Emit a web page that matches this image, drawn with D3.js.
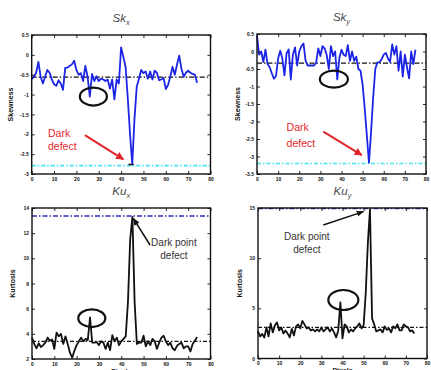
<!DOCTYPE html>
<html>
<head>
<meta charset="utf-8">
<script src="https://cdnjs.cloudflare.com/ajax/libs/d3/7.8.5/d3.min.js"></script>
<style>
body { margin: 0; background: #fff; }
svg { display: block; font-family: "Liberation Sans", Arial, sans-serif; }
</style>
</head>
<body>
<svg width="431" height="370"></svg>
<script>
// values, one per pixel position 0..74
var skx = [-0.61, -0.55, -0.45, -0.18, -0.55, -0.72, -0.55, -0.38, -0.45, -0.62,
           -0.74, -0.78, -0.64, -0.72, -0.88, -0.33, -0.32, -0.28, -0.24, -0.15,
           -0.38, -0.5, -0.46, -0.66, -0.28, -0.55, -1.05, -0.48, -0.66, -0.54,
           -0.66, -0.6, -0.62, -0.66, -0.62, -0.85, -0.62, -1.12, -0.62, -0.72,
           0.19, -0.05, -0.3, -1.1, -2.0, -2.76, -1.6, -0.8, -0.6, -0.38,
           -0.46, -0.42, -0.6, -0.42, -0.62, -0.4, -0.45, -0.64, -0.62, -0.58,
           -0.86, -0.76, -0.55, -0.3, -0.5, -0.25, -0.02, -0.35, -0.55, -0.45,
           -0.4, -0.45, -0.48, -0.5, -0.7];
var sky = [0.45, -0.09, 0.0, -0.3, 0.05, -0.36, -0.45, -0.62, -0.78, -0.7,
           -0.2, 0.02, -0.2, -0.68, -0.05, 0.06, -0.8, -0.09, 0.12, -0.4,
           0.0, 0.15, 0.23, -0.27, -0.4, -0.4, -0.4, -0.4, -0.32, 0.09,
           -0.13, 0.15, 0.09, -0.1, -0.5, 0.15, -0.13, 0.0, -0.8, -0.18,
           0.05, -0.09, -0.13, 0.18, -0.27, 0.0, -0.27, -0.15, -0.5, -0.55,
           -0.95, -1.63, -2.4, -3.18, -2.3, -1.3, -0.5, -0.31, -0.31, -0.22,
           -0.09, -0.04, -0.2, -0.3, 0.2, -0.09, 0.15, -0.55, 0.0, -0.72,
           -0.09, -0.45, -0.77, 0.0, -0.36, 0.05];
var kux = [3.7, 3.2, 2.85, 3.25, 2.95, 3.1, 3.3, 3.7, 3.45, 3.55,
           2.8, 4.1, 3.8, 4.0, 3.2, 3.8, 3.2, 2.5, 2.1, 2.65,
           3.1, 3.4, 3.7, 3.4, 3.6, 3.5, 5.3, 3.3, 3.3, 3.35,
           3.1, 3.4, 3.3, 2.8, 3.3, 2.7, 3.9, 3.4, 3.7, 3.1,
           3.4, 3.6, 3.8, 6.5, 11.5, 13.3, 6.5, 3.2, 3.3, 3.3,
           3.85, 3.0, 3.4, 3.1, 3.6, 3.4, 2.8, 3.3, 3.7, 3.85,
           3.4, 3.1, 3.3, 2.85, 2.7, 3.05, 3.2, 3.3, 2.85, 3.0,
           3.0, 2.6, 3.2, 3.45, 3.75];
var kuy = [2.7, 2.2, 2.45, 2.1, 3.1, 2.2, 3.5, 2.6, 3.3, 3.6,
           2.8, 3.1, 2.5, 2.8, 2.5, 2.1, 2.95, 2.3, 3.2, 3.4,
           3.0, 3.75, 3.4, 3.0, 3.1, 2.8, 2.9, 2.7, 2.9, 2.7,
           3.1, 2.7, 2.9, 3.1, 2.7, 3.0, 2.6, 2.1, 2.8, 5.6,
           2.0, 3.4, 3.2, 2.6, 2.9, 2.7, 3.0, 3.2, 3.5, 3.0,
           3.3, 6.5, 11.5, 14.85, 4.0, 3.4, 2.7, 2.8, 2.9, 2.6,
           3.2, 2.85, 3.0, 2.6, 3.2, 3.0, 3.4, 2.8, 2.8, 3.4,
           3.2, 3.1, 2.7, 2.8, 2.5];

// reference levels: [mean, defect level]
var skxLevels = [-0.56, -2.79];
var skyLevels = [-0.33, -3.2];
var kuxLevels = [3.4, 13.36];
var kuyLevels = [3.1, 14.95];

var xTicks = [0, 10, 20, 30, 40, 50, 60, 70, 80];
var skxTicks = [0.5, 0, -0.5, -1, -1.5, -2, -2.5, -3];
var skyTicks = [0.5, 0, -0.5, -1, -1.5, -2, -2.5, -3, -3.5];
var kuxTicks = [2, 4, 6, 8, 10, 12, 14];
var kuyTicks = [0, 5, 10, 15];

var svg = d3.select("svg");

var defs = svg.append("defs");
defs.append("marker")
    .attr("id", "redhead")
    .attr("viewBox", "0 0 10 10")
    .attr("refX", 9).attr("refY", 5)
    .attr("markerWidth", 4).attr("markerHeight", 4)
    .attr("orient", "auto")
  .append("path")
    .attr("d", "M0,0L10,5L0,10z")
    .attr("fill", "#e3262b");
defs.append("marker")
    .attr("id", "blackhead")
    .attr("viewBox", "0 0 10 10")
    .attr("refX", 9).attr("refY", 5)
    .attr("markerWidth", 5).attr("markerHeight", 5)
    .attr("orient", "auto")
  .append("path")
    .attr("d", "M0,1L10,5L0,9z")
    .attr("fill", "#111");

var panels = [
  {box: [31.7, 210.5, 35, 174], values: skx, yDomain: [-3, 0.5], yTicks: skxTicks,
   name: "Sk", sub: "x", ylabel: "Skewness", ylabelAt: -18.5, color: "#1c25e6",
   mean: skxLevels[0], mark: skxLevels[1], markColor: "#45e3ee", meanDash: "5,2,1.5,2", markDash: "4,2,1.5,2",
   ellipse: [27.6, -1.05, 13.5, 9], label: ["Dark", "defect"], labelAt: [7.3, -2.07, -2.4], labelColor: "#e3262b", labelAnchor: "start",
   arrow: [23.8, -2.02, 41, -2.63], arrowColor: "#e3262b", head: "redhead", foot: [43.3, 45.6, -2.76]},
  {box: [257, 426, 34, 174], values: sky, yDomain: [-3.5, 0.5], yTicks: skyTicks,
   name: "Sk", sub: "y", ylabel: "Skewness", ylabelAt: -17.5, color: "#1c25e6",
   mean: skyLevels[0], mark: skyLevels[1], markColor: "#45e3ee", meanDash: "5,2,1.5,2", markDash: "4,2,1.5,2",
   ellipse: [36.4, -0.79, 14, 8.5], label: ["Dark", "defect"], labelAt: [14, -2.26, -2.72], labelColor: "#e3262b", labelAnchor: "start",
   arrow: [31.4, -2.29, 49.6, -2.96], arrowColor: "#e3262b", head: "redhead"},
  {box: [32, 210.5, 208, 359], values: kux, yDomain: [2, 14], yTicks: kuxTicks,
   name: "Ku", sub: "x", ylabel: "Kurtosis", ylabelAt: -17.5, color: "#111",
   mean: kuxLevels[0], mark: kuxLevels[1], markColor: "#2b2fb5", meanDash: "4,2,1.5,2", markDash: "5,2,1.5,2",
   ellipse: [26.8, 5.24, 13.5, 8.8], label: ["Dark point", "defect"], labelAt: [63.6, 10.95, 9.95], labelColor: "#333", labelAnchor: "middle",
   arrow: [52.9, 11.06, 45.4, 13.18], arrowColor: "#111", head: "blackhead", xlabel: "Pixels"},
  {box: [258, 427, 208, 358.5], values: kuy, yDomain: [0, 15], yTicks: kuyTicks,
   name: "Ku", sub: "y", ylabel: "Kurtosis", ylabelAt: -16.5, color: "#111",
   mean: kuyLevels[0], mark: kuyLevels[1], markColor: "#2b2fb5", meanDash: "4,2,1.5,2", markDash: "5,2,1.5,2",
   ellipse: [40.4, 5.83, 15, 10], label: ["Dark point", "defect"], labelAt: [23.1, 11.8, 10.5], labelColor: "#333", labelAnchor: "middle",
   arrow: [30.9, 13.3, 49.9, 14.64], arrowColor: "#111", head: "blackhead", xlabel: "Pixels"}
];

panels.forEach(function(p) {
    var width = p.box[1] - p.box[0],
        height = p.box[3] - p.box[2];

    var x = d3.scaleLinear().domain([0, 80]).range([0, width]);
    var y = d3.scaleLinear().domain(p.yDomain).range([height, 0]);

    var g = svg.append("g")
        .attr("transform", "translate(" + p.box[0] + "," + p.box[2] + ")");

    // title
    var title = g.append("text")
        .attr("x", width / 2)
        .attr("y", -13)
        .attr("text-anchor", "middle")
        .attr("font-size", 11.5)
        .attr("font-style", "italic")
        .attr("fill", "#4a4a4a");
    title.append("tspan").text(p.name);
    title.append("tspan").attr("font-size", 7.5).attr("dy", 3).text(p.sub);

    // reference levels
    [[p.mean, "#111", p.meanDash, 1.2], [p.mark, p.markColor, p.markDash, 1.6]].forEach(function(l) {
        g.append("line")
            .attr("x1", x(0)).attr("x2", x(80))
            .attr("y1", y(l[0])).attr("y2", y(l[0]))
            .attr("stroke", l[1])
            .attr("stroke-width", l[3])
            .attr("stroke-dasharray", l[2]);
    });

    // series
    g.append("path")
        .datum(p.values)
        .attr("fill", "none")
        .attr("stroke", p.color)
        .attr("stroke-width", 1.8)
        .attr("stroke-linejoin", "round")
        .attr("d", d3.line()
            .x(function(d, i) { return x(i); })
            .y(function(d) { return y(d); }));

    if (p.foot) {
        g.append("line")
            .attr("x1", x(p.foot[0])).attr("x2", x(p.foot[1]))
            .attr("y1", y(p.foot[2])).attr("y2", y(p.foot[2]))
            .attr("stroke", "#111").attr("stroke-width", 1.5);
    }

    // axes, MATLAB style ticks inside the box
    var fmt = function(d) { return String(d); };
    g.append("g")
        .attr("transform", "translate(0," + height + ")")
        .call(d3.axisBottom(x).tickValues(xTicks).tickFormat(fmt).tickSize(-3).tickSizeOuter(0).tickPadding(3));
    g.append("g")
        .call(d3.axisLeft(y).tickValues(p.yTicks).tickFormat(fmt).tickSize(-3).tickSizeOuter(0).tickPadding(3));
    g.append("g")
        .call(d3.axisTop(x).tickValues(xTicks).tickFormat("").tickSize(-3).tickSizeOuter(0));
    g.append("g")
        .attr("transform", "translate(" + width + ",0)")
        .call(d3.axisRight(y).tickValues(p.yTicks).tickFormat("").tickSize(-3).tickSizeOuter(0));

    g.selectAll(".tick text")
        .attr("font-size", 5)
        .attr("font-weight", "bold")
        .attr("font-family", "\"Liberation Sans\", Arial, sans-serif")
        .attr("fill", "#111");
    g.selectAll(".domain").attr("stroke", "none");
    g.selectAll(".tick line").attr("stroke", "#111").attr("stroke-width", 0.9);

    g.append("rect")
        .attr("width", width)
        .attr("height", height)
        .attr("fill", "none")
        .attr("stroke", "#111")
        .attr("stroke-width", 1.4);

    // y-axis label
    g.append("text")
        .attr("transform", "translate(" + p.ylabelAt + "," + height / 2 + ") rotate(-90)")
        .attr("text-anchor", "middle")
        .attr("font-size", 7)
        .attr("font-weight", "bold")
        .attr("fill", "#111")
        .text(p.ylabel);

    // x-axis label, cut by the bottom edge as in the picture
    if (p.xlabel) {
        g.append("text")
            .attr("x", width / 2)
            .attr("y", height + 14.5)
            .attr("text-anchor", "middle")
            .attr("font-size", 7)
            .attr("font-weight", "bold")
            .attr("fill", "#222")
            .text(p.xlabel);
    }

    // annotations
    g.append("ellipse")
        .attr("cx", x(p.ellipse[0]))
        .attr("cy", y(p.ellipse[1]))
        .attr("rx", p.ellipse[2])
        .attr("ry", p.ellipse[3])
        .attr("fill", "none")
        .attr("stroke", "#111")
        .attr("stroke-width", 2.2);

    g.append("line")
        .attr("x1", x(p.arrow[0])).attr("y1", y(p.arrow[1]))
        .attr("x2", x(p.arrow[2])).attr("y2", y(p.arrow[3]))
        .attr("stroke", p.arrowColor)
        .attr("stroke-width", p.head == "redhead" ? 2 : 1.5)
        .attr("marker-end", "url(#" + p.head + ")");

    g.append("text")
        .attr("text-anchor", p.labelAnchor)
        .attr("font-size", p.labelAnchor == "start" ? 10.5 : 10)
        .attr("fill", p.labelColor)
        .selectAll("tspan")
        .data(p.label)
        .enter().append("tspan")
        .attr("x", x(p.labelAt[0]))
        .attr("y", function(d, i) { return y(p.labelAt[i + 1]); })
        .text(function(d) { return d; });
});
</script>
</body>
</html>
